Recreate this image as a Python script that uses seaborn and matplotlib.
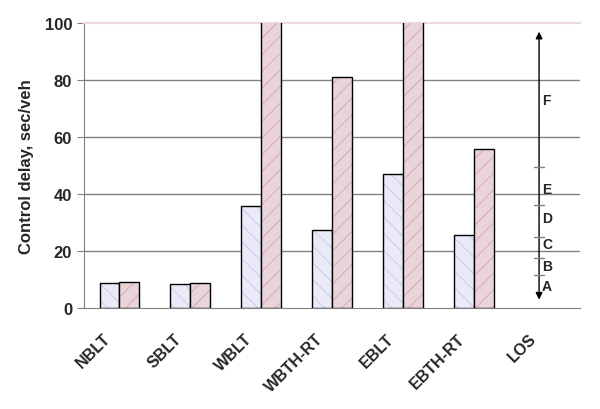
import pandas as pd
import numpy as np
import matplotlib
matplotlib.use('Agg')
import matplotlib.pyplot as plt
import matplotlib.transforms as mtransforms
import seaborn as sns

categories = ['NBLT', 'SBLT', 'WBLT', 'WBTH-RT', 'EBLT', 'EBTH-RT', 'LOS']
series_names = ['A', 'B']
delay_a = [8.7, 8.3, 36.0, 27.5, 47.0, 25.5, np.nan]
delay_b = [9.1, 8.7, 115.0, 81.0, 115.0, 55.8, np.nan]
yticks = [0, 20, 40, 60, 80, 100]

# LOS scale on the right
los_bounds = [11.6, 17.6, 25.1, 36.2, 49.7]
los_letters = ['A', 'B', 'C', 'D', 'E', 'F']
los_label_y = [7.6, 14.7, 22.4, 31.6, 41.7, 73.0]

sns.set_style('white')
plt.rcParams['font.family'] = ['Liberation Sans', 'DejaVu Sans']
plt.rcParams['hatch.linewidth'] = 0.8

df = pd.DataFrame({
    'cat': categories * 2,
    'series': [series_names[0]] * len(categories) + [series_names[1]] * len(categories),
    'delay': delay_a + delay_b,
})

fig = plt.figure(figsize=(6, 4.1), dpi=100)
ax = fig.add_axes([0.14, 0.246, 0.827, 0.695])

pal = {'A': '#E8E8FB', 'B': '#EDD0D9'}
sns.barplot(data=df, x='cat', y='delay', hue='series', order=categories,
            hue_order=series_names, palette=pal, width=0.56, ax=ax,
            edgecolor='black', linewidth=1.0, legend=False, zorder=3)

hatches = {'A': '\\\\', 'B': '//'}
hatch_cols = {'A': '#cfcfe6', 'B': '#d6b0bd'}
for cont, name in zip(ax.containers, series_names):
    for bar in cont:
        bar.set_hatch(hatches[name])
        bar.set_edgecolor('black')
        bar._hatch_color = matplotlib.colors.to_rgba(hatch_cols[name])

ax.set_ylim(0, 100)
ax.set_xlim(-0.5, len(categories) - 0.5)
ax.set_yticks(yticks)
for v in yticks[1:-1]:
    ax.axhline(v, color='#808080', lw=1.0, zorder=1)

ax.set_yticklabels([str(v) for v in yticks], fontsize=12, fontweight='bold')
ax.set_ylabel('Control delay, sec/veh', fontsize=12, fontweight='bold', labelpad=8)
ax.set_xlabel('')
ax.set_xticks(range(len(categories)))
ax.set_xticklabels(categories, rotation=45, ha='right', va='top',
                   fontsize=11.5, fontweight='bold')
ax.tick_params(axis='x', length=0, pad=16)
shift = mtransforms.ScaledTranslation(-6 / 100, 0, fig.dpi_scale_trans)
for lab in ax.get_xticklabels():
    lab.set_transform(lab.get_transform() + shift)
ax.set_xticks(np.arange(-0.5, len(categories)), minor=True)
ax.tick_params(axis='x', which='minor', length=5, color='#808080', direction='out')
ax.tick_params(axis='y', length=5, color='#808080', direction='out', left=True)

for s in ['left', 'bottom']:
    ax.spines[s].set_color('#808080')
ax.spines['top'].set_color('#f0d8e0')
ax.spines['top'].set_linewidth(1.5)
ax.spines['right'].set_visible(False)

# LOS arrow
x_los = 5.92
ax.annotate('', xy=(x_los, 2), xytext=(x_los, 98),
            arrowprops=dict(arrowstyle='<|-|>', color='black', lw=1.0,
                            mutation_scale=10), zorder=4)
for b in los_bounds:
    ax.plot([x_los - 0.07, x_los + 0.07], [b, b], color='#808080', lw=1.0, zorder=4)
for letter, yv in zip(los_letters, los_label_y):
    ax.text(x_los + 0.04, yv, letter, fontsize=10, fontweight='bold',
            va='center', ha='left', zorder=5)

fig.savefig('out.png', dpi=100)
